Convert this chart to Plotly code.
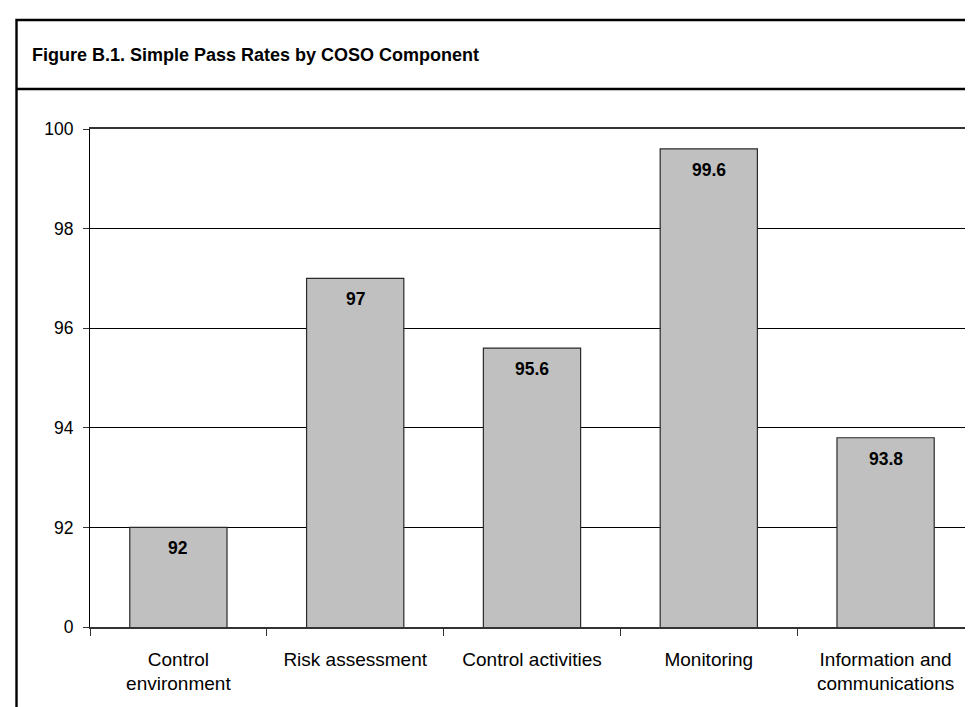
import plotly.graph_objects as go

categories = ["Control<br>environment", "Risk assessment", "Control activities",
              "Monitoring", "Information and<br>communications"]
pass_rates = [92, 97, 95.6, 99.6, 93.8]
tick_values = [90, 92, 94, 96, 98, 100]
tick_labels = ["0", "92", "94", "96", "98", "100"]
title_text = "Figure B.1. Simple Pass Rates by COSO Component"

FONT = "Liberation Sans, Arial, sans-serif"

W, H = 973, 707
L, R, T, B = 82, 7, 121, 88
pw, ph = W - L - R, H - T - B


def px(x):
    return (x - L) / pw


def py(y):
    return (H - B - y) / ph


fig = go.Figure()
fig.add_trace(go.Bar(
    x=categories,
    y=pass_rates,
    marker=dict(color="#C0C0C0", line=dict(color="#2a2a2a", width=1.2)),
    width=0.55,
    cliponaxis=True,
    hoverinfo="skip",
))

annotations = [
    dict(
        x=c, y=v, xref="x", yref="y",
        text=f"<b>{v:g}</b>",
        showarrow=False,
        yanchor="middle", xanchor="center",
        yshift=-21,
        font=dict(family=FONT, size=17.5, color="black"),
    )
    for c, v in zip(categories, pass_rates)
]
annotations.append(dict(
    text="<b>" + title_text + "</b>",
    xref="paper", yref="paper",
    x=px(22), y=py(47),
    xanchor="left", yanchor="middle",
    showarrow=False,
    font=dict(family=FONT, size=18, color="black"),
))

fig.update_layout(
    width=W, height=H,
    margin=dict(l=L, r=R, t=T, b=B),
    paper_bgcolor="white",
    plot_bgcolor="white",
    showlegend=False,
    font=dict(family=FONT, color="black"),
    xaxis=dict(
        type="category",
        tickson="boundaries",
        ticks="outside",
        ticklen=7,
        tickcolor="#333333",
        tickwidth=1,
        showline=True,
        linecolor="#333333",
        linewidth=1.8,
        mirror=True,
        showgrid=False,
        tickfont=dict(family=FONT, size=19, color="black"),
        ticklabelstandoff=14,
        range=[-0.5, 4.5],
    ),
    yaxis=dict(
        range=[90, 100],
        tickvals=tick_values,
        ticktext=tick_labels,
        ticks="outside",
        ticklen=6,
        tickcolor="#333333",
        showline=True,
        linecolor="black",
        linewidth=1,
        mirror=True,
        showgrid=True,
        gridcolor="black",
        gridwidth=1,
        zeroline=False,
        tickfont=dict(family=FONT, size=17.5, color="black"),
        ticklabelstandoff=6,
    ),
    annotations=annotations,
    shapes=[
        # outer frame
        dict(type="rect", xref="paper", yref="paper",
             x0=px(8.5), x1=px(990), y0=py(730), y1=py(12),
             line=dict(color="black", width=2.4), layer="above"),
        # title separator
        dict(type="line", xref="paper", yref="paper",
             x0=px(8.5), x1=px(990), y0=py(81), y1=py(81),
             line=dict(color="black", width=2.4), layer="above"),
    ],
)

fig.write_html("out.html")
